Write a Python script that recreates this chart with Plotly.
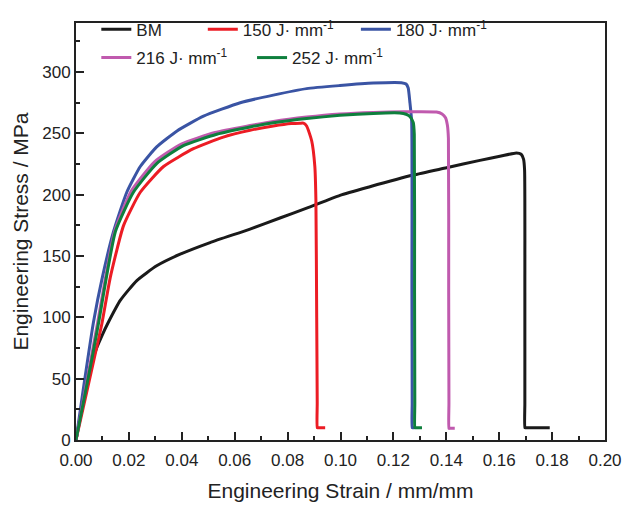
import plotly.graph_objects as go

# ---------------- data ----------------
bm_strain = [0, 0.002, 0.004, 0.006, 0.008, 0.010, 0.012, 0.0168, 0.0230, 0.0305, 0.0394, 0.0507,
             0.0658, 0.0771, 0.0872, 0.0998, 0.1111, 0.1275, 0.1401, 0.1527, 0.1607, 0.1665,
             0.1683, 0.1692, 0.1696, 0.1697, 0.1697, 0.1697, 0.1700, 0.1791]
bm_stress = [0, 24, 48, 64, 76, 86, 95, 114, 130, 142, 151.5, 161,
             172, 181, 189, 199.5, 206.5, 216, 222, 228, 231.5, 234,
             233, 229, 220, 120, 30, 10, 10, 10]

s150_strain = [0, 0.003, 0.006, 0.0098, 0.013, 0.018, 0.0243, 0.0331, 0.0444, 0.0557, 0.0658,
               0.0746, 0.0814, 0.0847, 0.0860, 0.0872, 0.0891, 0.0903, 0.0907, 0.0910, 0.0912,
               0.0912, 0.0915, 0.0942]
s150_stress = [0, 29, 58, 95, 133, 175, 202, 223, 237.5, 247, 252.5,
               256, 258, 258.3, 258.3, 256, 244, 223, 196, 100, 30,
               10, 10, 10]

s180_strain = [0, 0.003, 0.0066, 0.0100, 0.0142, 0.0192, 0.0243, 0.0305, 0.0382, 0.0482, 0.0621,
               0.0746, 0.0872, 0.0998, 0.1124, 0.1230, 0.1248, 0.1256, 0.1262, 0.1269, 0.1270,
               0.1271, 0.1271, 0.1274, 0.1280]
s180_stress = [0, 45, 96, 133, 170, 202, 223, 239, 252, 264, 275,
               281.2, 286.5, 289, 291, 291.3, 290.3, 287, 276, 260, 120,
               30, 10, 10, 10]

s216_strain = [0, 0.003, 0.006, 0.0082, 0.0146, 0.0209, 0.0298, 0.0398, 0.0526, 0.0658, 0.0746,
               0.0872, 0.0998, 0.1124, 0.1240, 0.1363, 0.1384, 0.1397, 0.1404, 0.1408, 0.1409,
               0.1410, 0.1410, 0.1413, 0.1432]
s216_stress = [0, 35, 70, 96, 170, 203, 227, 241.3, 250.8, 256.4, 259.8,
               263.3, 265.8, 267.1, 267.6, 267.4, 265.8, 262.8, 256.8, 245.8, 120,
               30, 9.5, 9.5, 9.5]

s252_strain = [0, 0.003, 0.006, 0.0085, 0.0149, 0.0217, 0.0305, 0.0406, 0.0532, 0.0658, 0.0746,
               0.0872, 0.0998, 0.1124, 0.1224, 0.1248, 0.1262, 0.1275, 0.1279, 0.1280, 0.1281,
               0.1281, 0.1284, 0.1308]
s252_stress = [0, 33, 66, 95, 170, 202, 225.4, 240, 249.3, 255.2, 258.6,
               262.1, 264.7, 266.3, 266.6, 265.6, 263.8, 259, 249.3, 120, 30,
               10, 10, 10]

series_names = ["BM", "150 J· mm<sup>-1</sup>", "180 J· mm<sup>-1</sup>",
                "216 J· mm<sup>-1</sup>", "252 J· mm<sup>-1</sup>"]
x_ticks = [0.00, 0.02, 0.04, 0.06, 0.08, 0.10, 0.12, 0.14, 0.16, 0.18, 0.20]
y_ticks = [0, 50, 100, 150, 200, 250, 300]

# ---------------- figure ----------------
colors = ["#1a1a1a", "#ec1c24", "#3a54a4", "#c05aae", "#0e7f3d"]
data = [(bm_strain, bm_stress), (s150_strain, s150_stress), (s180_strain, s180_stress),
        (s216_strain, s216_stress), (s252_strain, s252_stress)]
legends = ["legend", "legend2", "legend3", "legend4", "legend5"]

fig = go.Figure()
for (xs, ys), name, col, lg in zip(data, series_names, colors, legends):
    fig.add_trace(go.Scatter(x=xs, y=ys, mode="lines", name=name, legend=lg,
                             line=dict(color=col, width=3, shape="spline", smoothing=0.5)))

font_family = "Liberation Sans, Arial, sans-serif"
leg_common = dict(xref="paper", yref="paper", xanchor="left", yanchor="middle",
                  bgcolor="rgba(0,0,0,0)", borderwidth=0,
                  font=dict(family=font_family, size=17, color="#222"))
row1, row2 = 0.984, 0.916
fig.update_layout(
    legend=dict(x=0.0384, y=row1, **leg_common),
    legend2=dict(x=0.2397, y=row1, **leg_common),
    legend3=dict(x=0.5291, y=row1, **leg_common),
    legend4=dict(x=0.0384, y=row2, **leg_common),
    legend5=dict(x=0.3328, y=row2, **leg_common),
)

axis_common = dict(showline=True, linecolor="#222", linewidth=2, mirror=True,
                   ticks="inside", ticklen=8, tickwidth=2, tickcolor="#222",
                   showgrid=False, zeroline=False, automargin=False,
                   tickfont=dict(family=font_family, size=17, color="#222"))
fig.update_xaxes(range=[0, 0.2], tickvals=x_ticks, tickformat=".2f", ticklabelstandoff=4,
                 title=dict(text="Engineering Strain / mm/mm",
                            font=dict(family=font_family, size=21, color="#222"), standoff=14),
                 minor=dict(ticks="inside", ticklen=4, tickwidth=1.5, tickcolor="#222", dtick=0.01),
                 **axis_common)
fig.update_yaxes(range=[0, 340], tickvals=y_ticks,
                 title=dict(text="Engineering Stress / MPa",
                            font=dict(family=font_family, size=21, color="#222"), standoff=8),
                 minor=dict(ticks="inside", ticklen=4, tickwidth=1.5, tickcolor="#222", dtick=25),
                 **axis_common)
fig.update_layout(width=622, height=505, plot_bgcolor="white", paper_bgcolor="white",
                  margin=dict(l=76, r=17, t=12, b=65), showlegend=True)

fig.write_html("out.html", config={"displayModeBar": False},
               post_script="document.body.style.margin='0';")
